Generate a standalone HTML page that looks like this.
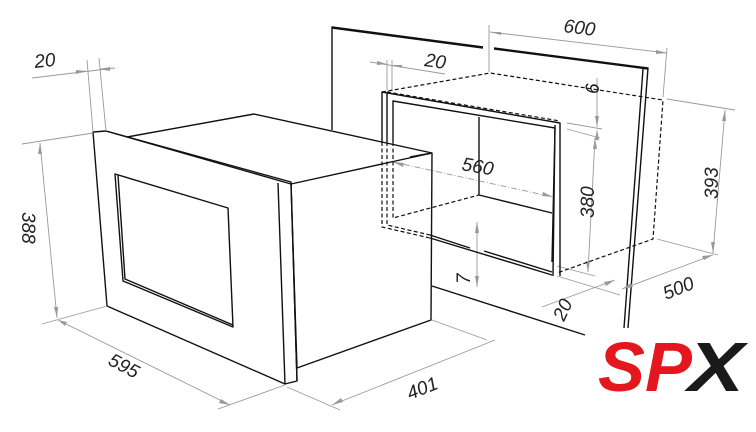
<!DOCTYPE html>
<html><head><meta charset="utf-8"><style>
html,body{margin:0;padding:0;background:#fff;}
svg{display:block}
text{font-family:"Liberation Sans",sans-serif;font-style:italic;font-size:19px;fill:#222}
</style></head><body>
<svg width="756" height="432" viewBox="0 0 756 432" xmlns="http://www.w3.org/2000/svg">
<g stroke="#111" stroke-width="1.4" fill="none" stroke-linejoin="round">
 <!-- wall -->
 <polyline points="332,130 332,27 483,47"/>
 <line x1="332" y1="28" x2="483" y2="48"/>
 <polyline points="494,48 648,68 628,328"/>
 <line x1="494" y1="49" x2="648" y2="69"/>
 <line x1="643" y1="69" x2="624" y2="328"/>
 <line x1="432" y1="286" x2="585" y2="335"/>
</g>
<!-- oven -->
<g stroke="#111" stroke-width="1.4" fill="#fff" stroke-linejoin="round">
 <polygon points="254,114 432,153 431,320 297,368 291,184 127,137"/>
 <polygon points="93,132 106,131 291,182 297,381 285,384 107,306"/>
 <polyline points="106,131 291,184 297,381" fill="none"/>
 <line x1="278" y1="183" x2="285" y2="384"/>
 <line x1="291" y1="184" x2="432" y2="153"/>
 <polygon points="115,174 228,208 233,327 123,281" fill="none"/>
 <polyline points="118,175 125,279 233,325" fill="none"/>
</g>
<g stroke="#999" stroke-width="0.9" fill="none">
 <line x1="32" y1="78" x2="115" y2="68"/>
 <line x1="87" y1="60" x2="93" y2="132"/>
 <line x1="99" y1="58" x2="106" y2="131"/>
 <line x1="40" y1="143" x2="57" y2="318"/>
 <line x1="22" y1="144" x2="93" y2="133"/>
 <line x1="42" y1="324" x2="107" y2="306"/>
 <line x1="58" y1="320" x2="230" y2="405"/>
 <line x1="218" y1="409" x2="285" y2="385"/>
 <line x1="332" y1="405" x2="495" y2="340"/>
 <line x1="287" y1="387" x2="340" y2="410"/>
 <line x1="432" y1="320" x2="487" y2="340"/>
 <line x1="490" y1="32" x2="667" y2="53"/>
 <line x1="489" y1="25" x2="489" y2="72"/>
 <line x1="667" y1="48" x2="663" y2="97"/>
 <line x1="370" y1="62" x2="445" y2="74"/>
 <line x1="387" y1="60" x2="387" y2="90"/>
 <line x1="392" y1="60" x2="392" y2="92"/>
 <line x1="597" y1="78" x2="597" y2="127"/>
 <line x1="567" y1="123" x2="602" y2="129"/>
 <line x1="567" y1="129" x2="600" y2="138"/>
 <line x1="595" y1="138" x2="588" y2="272"/>
 <line x1="557" y1="266" x2="595" y2="276"/>
 <line x1="725" y1="110" x2="713" y2="253"/>
 <line x1="667" y1="99" x2="735" y2="110"/>
 <line x1="657" y1="239" x2="718" y2="255"/>
 <line x1="622" y1="289" x2="713" y2="255"/>
 <line x1="542" y1="307" x2="615" y2="280"/>
 <line x1="557" y1="276" x2="620" y2="295"/>
 <line x1="393" y1="162" x2="553" y2="197" stroke-dasharray="6 2 1 2"/>
 <line x1="477" y1="222" x2="477" y2="287"/>
</g>
<g fill="#999">
 <polygon points="87,71 76,70 76,74"/>
 <polygon points="99,69 110,67 110,71"/>
 <polygon points="40,143 38,154 42,154"/>
 <polygon points="57,318 54,307 58,307"/>
 <polygon points="58,320 67,322 65,326"/>
 <polygon points="230,405 219,403 221,399"/>
 <polygon points="332,405 341,398 343,402"/>
 <polygon points="490,32 501,32 501,35"/>
 <polygon points="667,53 656,50 656,54"/>
 <polygon points="387,64 377,61 377,65"/>
 <polygon points="392,65 402,65 402,68"/>
 <polygon points="597,127 595,116 599,116"/>
 <polygon points="597,129 595,140 599,140"/>
 <polygon points="595,138 593,149 597,149"/>
 <polygon points="588,272 586,261 590,261"/>
 <polygon points="725,110 722,121 726,121"/>
 <polygon points="713,253 711,242 715,242"/>
 <polygon points="713,255 704,260 702,256"/>
 <polygon points="622,289 631,283 633,287"/>
 <polygon points="615,280 606,286 604,282"/>
 <polygon points="393,162 404,163 403,167"/>
 <polygon points="553,197 542,196 543,192"/>
 <polygon points="477,222 475,233 479,233"/>
 <polygon points="477,287 475,276 479,276"/>
</g>
<g stroke="#111" stroke-width="1.4" fill="none" stroke-linejoin="round">
 <polyline points="382,142 382,92 560,123 560,276"/>
 <line x1="387" y1="142" x2="387" y2="92"/>
 <polyline points="393,142 393,101 555,128 552,262"/>
 <line x1="555" y1="125" x2="553" y2="276"/>
 <line x1="479" y1="117" x2="479" y2="195"/>
 <line x1="479" y1="195" x2="552" y2="213"/>
 <line x1="430" y1="238" x2="552" y2="275"/>
 <line x1="430" y1="235" x2="470" y2="248"/>
 <line x1="484" y1="251" x2="552" y2="272"/>
 <line x1="410" y1="157" x2="432" y2="153"/>
</g>
<g stroke="#111" stroke-width="1.2" fill="none" stroke-dasharray="4 2.5">
 <polyline points="382,142 382,227 430,238"/>
 <polyline points="387,142 387,225 430,235"/>
 <polyline points="393,142 393,218 479,195"/>
 <polyline points="382,92 490,73 663,100 653,239 557,273"/>
 <line x1="387" y1="92" x2="560" y2="121"/>
</g>
<g>
 <text x="35" y="68" transform="rotate(-6 35 68)">20</text>
 <text x="0" y="0" transform="translate(22,212) rotate(90)">388</text>
 <text x="0" y="0" transform="translate(107,364) rotate(28)">595</text>
 <text x="0" y="0" transform="translate(410,400) rotate(-22)">401</text>
 <text x="0" y="0" transform="translate(563,32) rotate(7)">600</text>
 <text x="0" y="0" transform="translate(424,66) rotate(8)">20</text>
 <text x="0" y="0" transform="translate(599,94) rotate(-90)">6</text>
 <text x="0" y="0" transform="translate(461,170) rotate(10)">560</text>
 <text x="0" y="0" transform="translate(594,218) rotate(-90)">380</text>
 <text x="0" y="0" transform="translate(718,199) rotate(-90)">393</text>
 <text x="0" y="0" transform="translate(666,300) rotate(-22)">500</text>
 <text x="0" y="0" transform="translate(564,322) rotate(-65)">20</text>
 <text x="0" y="0" transform="translate(470,284) rotate(-90)">7</text>
</g>
<text x="598" y="391" textLength="94" lengthAdjust="spacingAndGlyphs" style="font-family:'Liberation Sans',sans-serif;font-weight:bold;font-style:italic;font-size:70px;fill:#e3171d">SP</text>
<text x="688" y="391" textLength="56" lengthAdjust="spacingAndGlyphs" style="font-family:'Liberation Sans',sans-serif;font-weight:bold;font-style:italic;font-size:70px;fill:#1a1a1a">X</text>
</svg>
</body></html>
